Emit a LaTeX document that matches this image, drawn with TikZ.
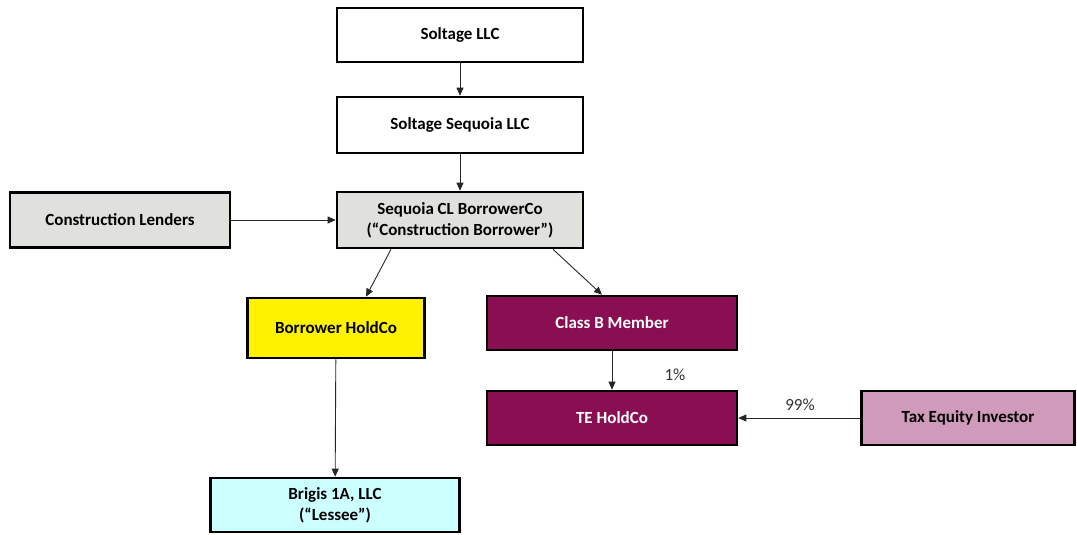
\documentclass[tikz,border=0pt]{standalone}
\usepackage{fontspec}
\setmainfont{Carlito}
\usetikzlibrary{arrows.meta}

\definecolor{boxgray}{RGB}{224,224,220}
\definecolor{maroon}{RGB}{137,14,82}
\definecolor{pinkish}{RGB}{208,155,187}
\definecolor{paleblue}{RGB}{204,255,255}

\tikzset{
    entity/.style={draw=black, line width=2.6pt, fill=white, inner sep=0pt,
        align=center, font=\fontsize{17}{21}\selectfont\bfseries},
    link/.style={draw=black!85, line width=0.9pt, -{Triangle[length=8pt,width=7pt]}},
    pct/.style={font=\fontsize{17}{21}\selectfont, text=black!80}
}

\begin{document}
\begin{tikzpicture}[x=1pt, y=-1pt]

        \useasboundingbox (0,0) rectangle (1077,535);

        % top chain
        \node[entity, minimum width=246, minimum height=54] (soltage) at (460,35) {Soltage LLC};
        \node[entity, minimum width=246, minimum height=56] (sequoia) at (460,125) {Soltage Sequoia LLC};
        \node[entity, fill=boxgray, minimum width=246, minimum height=56] (borrowerco) at (460,220)
            {Sequoia CL BorrowerCo\\(``Construction Borrower'')};
        \node[entity, fill=boxgray, minimum width=220, minimum height=55] (lenders) at (120,220) {Construction Lenders};

        % left branch
        \node[entity, fill=yellow, minimum width=177, minimum height=60] (holdco) at (336,328) {Borrower HoldCo};
        \node[entity, fill=paleblue, minimum width=249, minimum height=54] (brigis) at (335,505)
            {Brigis 1A, LLC\\(``Lessee'')};

        % right branch
        \node[entity, fill=maroon, text=white, minimum width=250, minimum height=54] (classb) at (612,323) {Class B Member};
        \node[entity, fill=maroon, text=white, minimum width=250, minimum height=54] (teholdco) at (612,418) {TE HoldCo};
        \node[entity, fill=pinkish, minimum width=213, minimum height=54] (investor) at (968,418) {Tax Equity Investor};

        \draw[link] (soltage) -- (sequoia);
        \draw[link] (sequoia) -- (borrowerco);
        \draw[link] (lenders) -- (borrowerco);
        \draw[link] ([xshift=-69pt]borrowerco.south) -- ([xshift=30pt]holdco.north);
        \draw[link] ([xshift=93pt]borrowerco.south) -- ([xshift=-10pt]classb.north);
        \draw[link] (holdco) -- (brigis);
        \draw[link] (classb) -- (teholdco);
        \draw[link] (investor) -- (teholdco);

        \node[pct] (one) at (675,375) {1\%};
        \node[pct] (ninetynine) at (800,405) {99\%};
    \end{tikzpicture}
\end{document}
